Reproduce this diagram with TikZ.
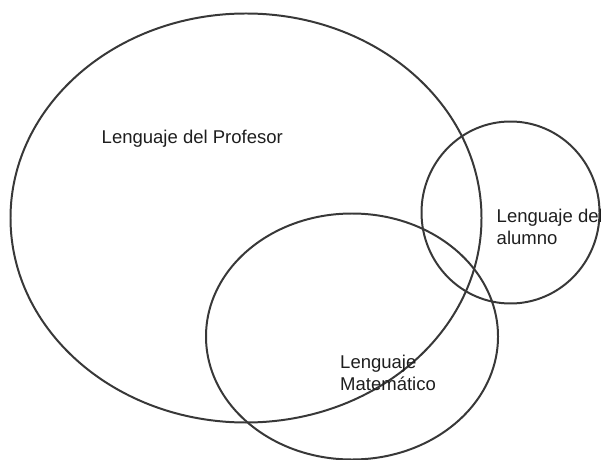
\documentclass[tikz,border=0pt]{standalone}
\usepackage{fontspec}
\setmainfont{Liberation Sans}
\definecolor{ringgray}{HTML}{383838}
\definecolor{textgray}{HTML}{1E1E1E}
\tikzset{
  ring/.style={draw=ringgray, line width=1.7pt},
  label/.style={anchor=west, align=left, inner sep=0pt, text=textgray,
    font=\fontsize{15.8}{18.6}\selectfont}
}
\begin{document}
\begin{tikzpicture}[x=0.03cm,y=-0.03cm]
  \useasboundingbox (0,0) rectangle (601,460);
  % the three sets
  \draw[ring] (246,218) ellipse [x radius=235.5, y radius=204.5];
  \draw[ring] (510.5,212.5) ellipse [x radius=89, y radius=91];
  \draw[ring] (352,336.5) ellipse [x radius=146, y radius=123];
  % labels
  \node[label] (profesor) at (101.5,139) {Lenguaje del Profesor};
  \node[label] (alumno) at (496.5,227) {Lenguaje del\\alumno};
  \node[label] (mate) at (340,372.5) {Lenguaje\\Matemático};
\end{tikzpicture}
\end{document}
